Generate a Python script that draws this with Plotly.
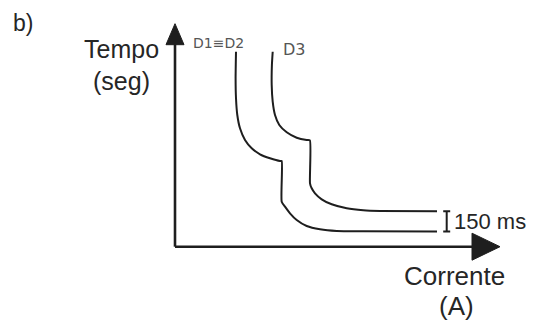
import plotly.graph_objects as go

# Schematic time-current curves (arbitrary units: current -> x, time -> y)
d12_current = [61, 60.6, 61, 62.3, 65, 70, 76.7, 85, 95, 105, 106.7, 106.7, 110, 115, 121.7, 131.7, 145, 161.7, 188.3, 262]
d12_time = [195, 168.4, 148.4, 131.7, 118.4, 106.7, 98.4, 92.4, 88.4, 85.7, 85.7, 45, 40, 33.4, 26.7, 20.7, 17.4, 15.7, 15.4, 15.2]

d3_current = [97.7, 96.9, 96.7, 97.7, 100, 104.3, 111.7, 121.7, 131.7, 134.9, 135, 136.7, 140, 146.7, 156.7, 171.7, 188.3, 205, 262]
d3_time = [195, 181.7, 161.7, 145, 131.7, 121.7, 114.4, 109, 106.7, 106.4, 63.4, 58.4, 53.4, 47.4, 42.4, 38.4, 36.4, 35.7, 35.4]

curve_labels = ["D1\u2261D2", "D3"]
axis_labels = ["Tempo", "(seg)", "Corrente", "(A)"]
interval_label = "150 ms"
panel_label = "b)"

# axis extent (schematic)
Y_TOP = 223
X_END = 325

LINE = "#1e1e1e"
TEXT = "#262626"

# page body margin offset compensation
OFF = 8

fig = go.Figure()

# axes lines
fig.add_trace(go.Scatter(x=[0, 0, None, 0, X_END - 20], y=[Y_TOP - 15, 0, None, 0, 0], mode="lines",
                         line=dict(color=LINE, width=2.6), hoverinfo="skip", showlegend=False))
# arrow heads
fig.add_trace(go.Scatter(x=[-9, 9, 0, -9], y=[Y_TOP - 21, Y_TOP - 21, Y_TOP, Y_TOP - 21], mode="lines",
                         fill="toself", fillcolor=LINE, line=dict(color=LINE, width=1),
                         hoverinfo="skip", showlegend=False))
fig.add_trace(go.Scatter(x=[X_END - 28, X_END - 28, X_END, X_END - 28], y=[-13.5, 13.5, 0, -13.5], mode="lines",
                         fill="toself", fillcolor=LINE, line=dict(color=LINE, width=1),
                         hoverinfo="skip", showlegend=False))

# curves
fig.add_trace(go.Scatter(x=d12_current, y=d12_time, mode="lines",
                         line=dict(color=LINE, width=2, shape="spline", smoothing=0.5),
                         hoverinfo="skip", showlegend=False))
fig.add_trace(go.Scatter(x=d3_current, y=d3_time, mode="lines",
                         line=dict(color=LINE, width=2, shape="spline", smoothing=0.5),
                         hoverinfo="skip", showlegend=False))

# 150 ms interval bar
mid = (d3_time[-1] + d12_time[-1]) / 2
half = (d3_time[-1] - d12_time[-1]) / 2
beam_x = d3_current[-1] + 9.7
fig.add_trace(go.Scatter(x=[beam_x], y=[mid], mode="markers", marker=dict(size=1, color="rgba(0,0,0,0)"),
                         error_y=dict(type="data", symmetric=True, array=[half], color=LINE,
                                      thickness=2, width=3.5),
                         hoverinfo="skip", showlegend=False))

ann = []
def A(text, x, y, size, xanchor="center", color=TEXT, family="Liberation Sans, Arial, sans-serif"):
    ann.append(dict(text=text, x=x, y=y, xref="x", yref="y", showarrow=False,
                    xanchor=xanchor, yanchor="middle",
                    font=dict(size=size, color=color, family=family)))

A(panel_label, -152, 224, 23)
A(axis_labels[0], -54, 197.5, 25)
A(axis_labels[1], -54, 165.5, 25)
A(axis_labels[2], 279.3, -29.5, 26)
A(axis_labels[3], 281.7, -59, 26)
A(curve_labels[0], 15.5, 203.5, 14, xanchor="left", color="#555555", family="DejaVu Sans, sans-serif")
A(curve_labels[1], 105.5, 197, 16, xanchor="left", color="#555555", family="DejaVu Sans, sans-serif")
A(interval_label, beam_x + 5, 25.5, 22, xanchor="left")

fig.update_layout(
    width=534, height=320,
    margin=dict(l=0, r=0, t=0, b=0),
    paper_bgcolor="white", plot_bgcolor="white",
    xaxis=dict(range=[-175 + OFF, 359 + OFF], visible=False, fixedrange=True),
    yaxis=dict(range=[-73.3 - OFF, 246.7 - OFF], visible=False, fixedrange=True),
    annotations=ann,
    showlegend=False,
)

fig.write_html("out.html")
